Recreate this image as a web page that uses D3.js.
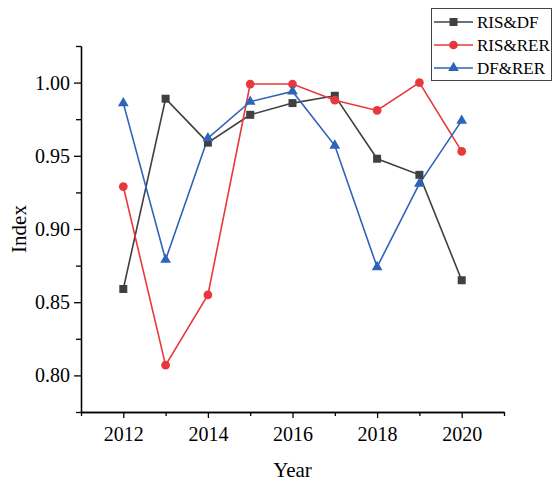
<!DOCTYPE html>
<html>
<head>
<meta charset="utf-8">
<script src="https://cdn.jsdelivr.net/npm/d3@7"></script>
<style>
  html, body { margin: 0; padding: 0; background: #fff; }
  svg { display: block; font-family: "Liberation Serif", "Times New Roman", serif; }
</style>
</head>
<body>
<svg id="chart" width="553" height="486"></svg>
<script>
// Years on the horizontal axis
const years = [2012, 2013, 2014, 2015, 2016, 2017, 2018, 2019, 2020];

// Index values per pairing
const risDf  = [0.859, 0.989, 0.959, 0.978, 0.986, 0.991, 0.948, 0.937, 0.865];
const risRer = [0.929, 0.807, 0.855, 0.999, 0.999, 0.988, 0.981, 1.000, 0.953];
const dfRer  = [0.986, 0.879, 0.962, 0.987, 0.994, 0.957, 0.874, 0.931, 0.974];

// Tick labels
const xTicks = [2012, 2014, 2016, 2018, 2020];
const yTicks = [0.80, 0.85, 0.90, 0.95, 1.00];

const seriesNames = ["RIS&DF", "RIS&RER", "DF&RER"];
const seriesColors = ["#404040", "#e8383d", "#2f63b9"];
const seriesSymbols = [d3.symbolSquare, d3.symbolCircle, d3.symbolTriangle];
const seriesValues = [risDf, risRer, dfRer];

const svg = d3.select("#chart");
const plotLeft = 81, plotRight = 504, plotTop = 46, plotBottom = 412;

const x = d3.scaleLinear().domain([2011, 2021]).range([plotLeft, plotRight]);
const y = d3.scaleLinear().domain([0.775, 1.025]).range([plotBottom, plotTop]);

// Axes: major ticks labelled, minor ticks between
const xAxis = d3.axisBottom(x).tickValues(xTicks).tickFormat(d3.format("d"))
  .tickSizeInner(6).tickSizeOuter(0).tickPadding(9);
const xMinor = d3.axisBottom(x).tickValues([2011, 2013, 2015, 2017, 2019, 2021])
  .tickFormat("").tickSizeInner(4).tickSizeOuter(0);
const yAxis = d3.axisLeft(y).tickValues(yTicks).tickFormat(d3.format(".2f"))
  .tickSizeInner(7).tickSizeOuter(0).tickPadding(4);
const yMinor = d3.axisLeft(y).tickValues([0.775, 0.825, 0.875, 0.925, 0.975, 1.025])
  .tickFormat("").tickSizeInner(5).tickSizeOuter(0);

function styleAxis(g) {
  g.selectAll("path, line").attr("stroke", "#000").attr("stroke-width", 1.3);
  g.selectAll("text").attr("fill", "#000").style("font-size", "20px")
    .style("font-family", "'Liberation Serif', 'Times New Roman', serif");
}

svg.append("g").attr("transform", `translate(0,${plotBottom})`).call(xMinor).call(styleAxis);
svg.append("g").attr("transform", `translate(0,${plotBottom})`).call(xAxis).call(styleAxis);
svg.append("g").attr("transform", `translate(${plotLeft},0)`).call(yMinor).call(styleAxis);
svg.append("g").attr("transform", `translate(${plotLeft},0)`).call(yAxis).call(styleAxis);

// Axis titles
svg.append("text")
  .attr("x", (plotLeft + plotRight) / 2).attr("y", 477)
  .attr("text-anchor", "middle").style("font-size", "21px").text("Year");
svg.append("text")
  .attr("transform", `translate(26,${(plotTop + plotBottom) / 2}) rotate(-90)`)
  .attr("text-anchor", "middle").style("font-size", "21px").text("Index");

// Lines and markers
const line = d3.line().x((d, i) => x(years[i])).y(d => y(d));
const markerSize = [64, 60, 50];

seriesValues.forEach((vals, s) => {
  svg.append("path")
    .datum(vals)
    .attr("fill", "none")
    .attr("stroke", seriesColors[s])
    .attr("stroke-width", 1.6)
    .attr("d", line);
});
seriesValues.forEach((vals, s) => {
  svg.append("g").selectAll("path")
    .data(vals)
    .join("path")
    .attr("transform", (d, i) => `translate(${x(years[i])},${y(d)})`)
    .attr("d", d3.symbol().type(seriesSymbols[s]).size(markerSize[s]))
    .attr("fill", seriesColors[s]);
});

// Legend
const legend = svg.append("g");
legend.append("rect")
  .attr("x", 431.5).attr("y", 8.5).attr("width", 120).attr("height", 72)
  .attr("fill", "#fff").attr("stroke", "#444").attr("stroke-width", 1);
seriesNames.forEach((name, s) => {
  const ly = 22 + s * 23;
  legend.append("line")
    .attr("x1", 434).attr("x2", 473).attr("y1", ly).attr("y2", ly)
    .attr("stroke", seriesColors[s]).attr("stroke-width", 1.6);
  legend.append("path")
    .attr("transform", `translate(453.5,${ly})`)
    .attr("d", d3.symbol().type(seriesSymbols[s]).size(markerSize[s]))
    .attr("fill", seriesColors[s]);
  legend.append("text")
    .attr("x", 477).attr("y", ly + 6)
    .style("font-size", "17px").text(name);
});
</script>
</body>
</html>
